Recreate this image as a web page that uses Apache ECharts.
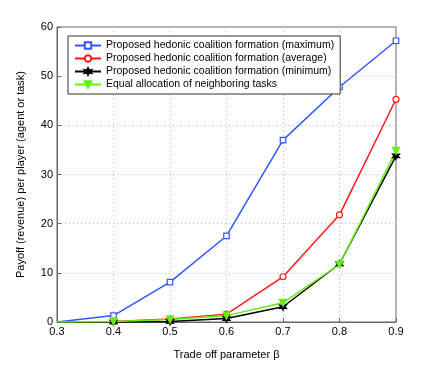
<!DOCTYPE html>
<html>
<head>
<meta charset="utf-8">
<script src="https://cdn.jsdelivr.net/npm/echarts@6/dist/echarts.min.js"></script>
<style>
  html, body { margin: 0; padding: 0; background: #fff; }
  #chart { width: 436px; height: 365px; }
</style>
</head>
<body>
<div id="chart"></div>
<script>
const betas = [0.3, 0.4, 0.5, 0.6, 0.7, 0.8, 0.9];
const maxPayoff = [0, 1.3, 8.1, 17.5, 37.0, 47.8, 57.2];
const avgPayoff = [0, 0.1, 0.6, 1.6, 9.2, 21.8, 45.3];
const minPayoff = [0, 0, 0.1, 0.7, 3.1, 11.8, 33.8];
const equalPayoff = [0, 0.1, 0.5, 1.3, 3.9, 11.7, 34.8];

const names = [
  'Proposed hedonic coalition formation (maximum)',
  'Proposed hedonic coalition formation (average)',
  'Proposed hedonic coalition formation (minimum)',
  'Equal allocation of neighboring tasks'
];

const starPath = 'path://M0,-10 L2.5,-4.3 L8.7,-5 L5,0 L8.7,5 L2.5,4.3 L0,10 L-2.5,4.3 L-8.7,5 L-5,0 L-8.7,-5 L-2.5,-4.3 Z';

// first point (beta = 0.3) has no marker in the original
function pairs(ys) {
  return betas.map(function (b, i) {
    return i === 0 ? { value: [b, ys[i]], symbol: 'none' } : [b, ys[i]];
  });
}

function makeSeries(name, ys, color, symbol, size, fill, rotate) {
  return {
    name: name,
    type: 'line',
    data: pairs(ys),
    symbol: symbol,
    symbolSize: size,
    symbolRotate: rotate || 0,
    showAllSymbol: true,
    clip: false,
    lineStyle: { color: color, width: 1.5 },
    itemStyle: { color: fill, borderColor: color, borderWidth: 1.2 },
    emphasis: { disabled: true }
  };
}

const chart = echarts.init(document.getElementById('chart'));
chart.setOption({
  animation: false,
  textStyle: { fontFamily: 'Liberation Sans, Arial, sans-serif' },
  grid: {
    left: 57, right: 40, top: 27, bottom: 41,
    show: true, borderColor: '#666', borderWidth: 1
  },
  legend: {
    left: 68, top: 36,
    orient: 'vertical',
    itemGap: 2,
    itemWidth: 26, itemHeight: 8,
    padding: [4, 6, 4, 6],
    backgroundColor: '#fff',
    borderColor: '#333', borderWidth: 1,
    textStyle: { fontSize: 10.5, color: '#000' },
    data: names
  },
  xAxis: {
    type: 'value', min: 0.3, max: 0.9, interval: 0.1,
    name: 'Trade off parameter \u03b2',
    nameLocation: 'middle', nameGap: 27,
    nameTextStyle: { fontSize: 11, color: '#000' },
    axisLine: { show: true, lineStyle: { color: '#666' } },
    axisTick: { inside: true, length: 4, lineStyle: { color: '#666' } },
    axisLabel: {
      color: '#000', fontSize: 11, margin: 4,
      formatter: function (v) { return v.toFixed(1); }
    },
    splitLine: { show: true, lineStyle: { color: '#bbb', type: [1, 3] } }
  },
  yAxis: {
    type: 'value', min: 0, max: 60, interval: 10,
    name: 'Payoff (revenue) per player (agent or task)',
    nameLocation: 'middle', nameGap: 31,
    nameTextStyle: { fontSize: 11, color: '#000' },
    axisLine: { show: true, lineStyle: { color: '#666' } },
    axisTick: { inside: true, length: 4, lineStyle: { color: '#666' } },
    axisLabel: { color: '#000', fontSize: 11, margin: 4 },
    splitLine: { show: true, lineStyle: { color: '#bbb', type: [1, 3] } }
  },
  series: [
    makeSeries(names[0], maxPayoff, '#3355ff', 'rect', 5.5, '#fff'),
    makeSeries(names[1], avgPayoff, '#ff1a1a', 'circle', 6, '#fff'),
    makeSeries(names[2], minPayoff, '#000', starPath, 7, '#000'),
    makeSeries(names[3], equalPayoff, '#66ee11', 'triangle', 7, '#66ee11', 180)
  ]
});
</script>
</body>
</html>
